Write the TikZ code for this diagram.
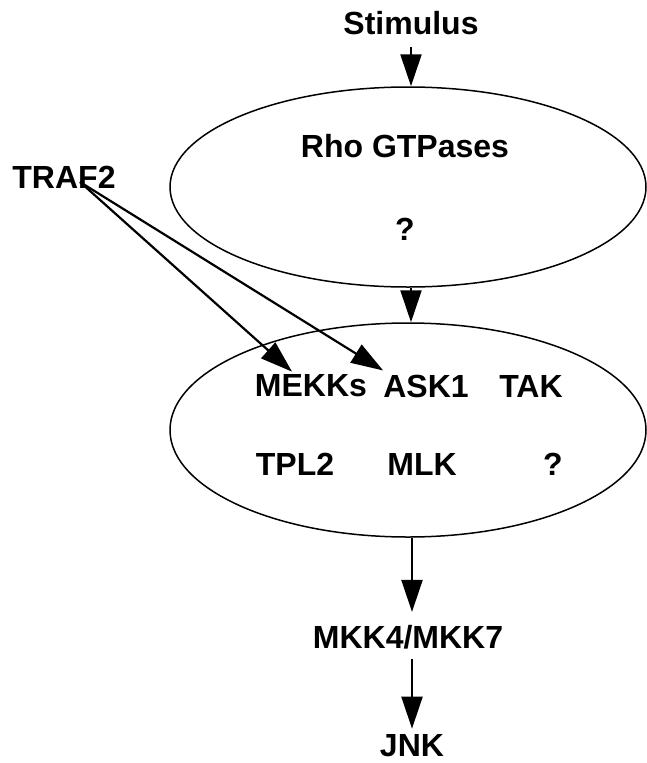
\documentclass[tikz,border=0pt]{standalone}
\usepackage{fontspec}
\setmainfont{Liberation Sans}
\usetikzlibrary{shapes.geometric,arrows.meta}
\newcommand{\lbl}{\fontsize{32}{38}\selectfont\bfseries}
\begin{document}
\begin{tikzpicture}[x=1pt,y=1pt]
\tikzstyle{every node}+=[inner sep=0pt,font=\lbl]
\tikzstyle{arr}=[line width=2.2pt,-{Triangle[length=32pt,width=21pt]}]
\tikzstyle{blob}=[draw,ellipse,line width=1.5pt,minimum width=476pt]
\useasboundingbox (0,0) rectangle (647,-763);
\node (stim) at (411,-23) {Stimulus};
\node [blob,minimum height=200pt] (rho) at (408,-187) {};
\node (gtp) at (405,-146) {Rho GTPases};
\node (rhoq) at (405,-229) {?};
\node [blob,minimum height=214pt] (kkk) at (408,-430) {};
\node (mekk) at (311,-386) {MEKKs};
\node (ask) at (426,-386) {ASK1};
\node (tak) at (531,-386) {TAK};
\node (tpl) at (295,-464) {TPL2};
\node (mlk) at (422,-464) {MLK};
\node (kkkq) at (553,-464) {?};
\node (mkk) at (408,-637) {MKK4/MKK7};
\node (jnk) at (412,-746) {JNK};
\node (traf) at (64,-177) {TRAF2};
\coordinate (trafsrc) at (80,-182);
\draw [arr,shorten <=12pt] (stim.south) -- (stim.south |- rho.north);
\draw [arr] (stim.south |- rho.south) -- (stim.south |- kkk.north);
\draw [arr,shorten >=13pt] (jnk.north |- kkk.south) -- (jnk.north |- mkk.north);
\draw [arr,shorten <=10pt,shorten >=6pt] (jnk.north |- mkk.south) -- (jnk.north);
\draw [arr] (trafsrc) -- ([xshift=-19pt,yshift=3pt]mekk.north);
\draw [arr] (trafsrc) -- ([yshift=4pt]ask.north west);
\end{tikzpicture}
\end{document}
